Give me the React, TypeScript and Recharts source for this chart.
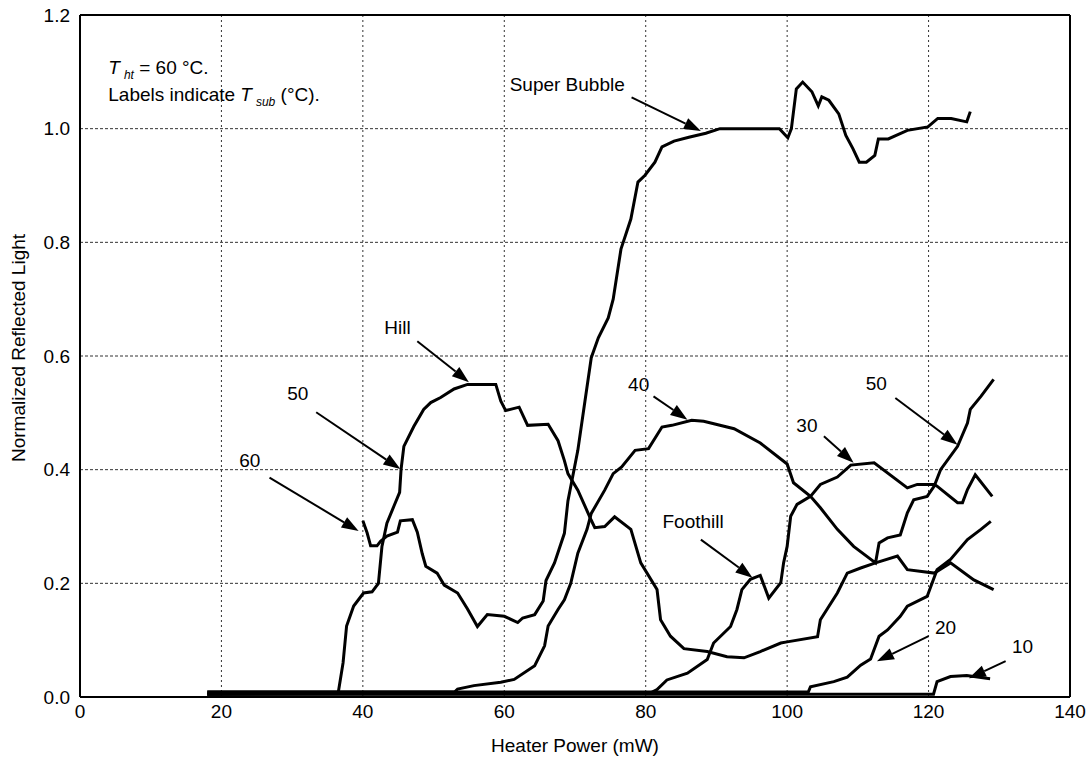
import React from "react";
import {
  LineChart,
  Line,
  XAxis,
  YAxis,
  CartesianGrid,
  ReferenceLine,
  ReferenceDot,
} from "recharts";

type Pt = [number, number];

const xTicks = [0, 20, 40, 60, 80, 100, 120, 140];
const yTicks = [0, 0.2, 0.4, 0.6, 0.8, 1.0, 1.2];

// Tsub = 60 °C, the one that ends in the super bubble
const curve60: Pt[] = [
  [40, 0.31], [40.6, 0.289], [41.1, 0.266], [42, 0.266], [42.5, 0.274],
  [43.4, 0.283], [44.9, 0.29], [45.3, 0.31], [47, 0.312], [47.7, 0.29],
  [48.4, 0.252], [48.9, 0.23], [50.5, 0.218], [51.5, 0.197], [53.4, 0.183],
  [54.8, 0.155], [56.2, 0.124], [57.6, 0.145], [60, 0.142], [61.9, 0.131],
  [62.6, 0.139], [64.3, 0.145], [65.5, 0.169], [65.9, 0.205], [67.1, 0.236],
  [68.5, 0.288], [69, 0.345], [70.4, 0.434], [71.4, 0.52], [72.3, 0.597],
  [73.3, 0.632], [74.7, 0.667], [75.4, 0.7], [76.5, 0.788], [77.9, 0.841],
  [78.9, 0.906], [79.9, 0.918], [81.3, 0.941], [82.3, 0.968], [84, 0.978],
  [86.1, 0.985], [88.5, 0.992], [90.5, 1.0], [98.9, 1.0], [100.1, 0.984],
  [100.6, 1.0], [101.3, 1.07], [102.2, 1.082], [103.5, 1.065], [104.4, 1.04],
  [104.9, 1.056], [105.9, 1.05], [107.3, 1.026], [108.3, 0.988], [109.3, 0.965],
  [110.2, 0.941], [111.2, 0.941], [112.4, 0.953], [112.9, 0.982], [114.3, 0.982],
  [117, 0.997], [119.9, 1.003], [121.3, 1.018], [123.2, 1.018], [125.4, 1.012],
  [125.9, 1.03],
];

// Tsub = 50 °C (left), goes over the hill
const curve50: Pt[] = [
  [18, 0.005], [36.5, 0.006], [37.2, 0.06], [37.7, 0.125], [38.7, 0.16],
  [40.1, 0.183], [41.3, 0.185], [42.2, 0.2], [42.7, 0.265], [43.4, 0.306],
  [44.4, 0.336], [45.2, 0.36], [45.4, 0.4], [45.8, 0.441], [47.2, 0.476],
  [48.6, 0.506], [49.6, 0.518], [51, 0.527], [52.9, 0.542], [54.8, 0.55],
  [58.8, 0.55], [59.5, 0.521], [60.2, 0.504], [62.1, 0.51], [63.3, 0.478],
  [66.2, 0.48], [67.6, 0.451], [68.5, 0.416], [69, 0.393], [70.4, 0.364],
  [72.3, 0.311], [72.8, 0.298], [74.2, 0.3], [75.6, 0.317], [77.9, 0.295],
  [79.3, 0.236], [81.6, 0.189], [82.1, 0.136], [83.5, 0.107], [85.4, 0.085],
  [88.7, 0.08], [91.5, 0.071], [93.9, 0.069], [96.2, 0.08], [99.1, 0.095],
  [100, 0.097], [104.3, 0.106], [104.7, 0.136], [107.1, 0.183], [108.5, 0.218],
  [110.4, 0.227], [112.5, 0.236], [115.6, 0.248], [117, 0.224], [120.8, 0.218],
  [123.1, 0.236], [126.4, 0.206], [129.2, 0.189],
];

const curve40: Pt[] = [
  [18, 0.009], [53, 0.009], [53.4, 0.014], [55.7, 0.02], [59.5, 0.026],
  [61.4, 0.031], [64.3, 0.055], [65.7, 0.09], [66.2, 0.125], [67.6, 0.154],
  [68.5, 0.171], [69.4, 0.2], [70.4, 0.253], [71.7, 0.295], [72.3, 0.323],
  [74.2, 0.364], [75.4, 0.393], [76.6, 0.405], [78.5, 0.434], [80.4, 0.437],
  [82.3, 0.475], [83.7, 0.478], [86.5, 0.487], [88.2, 0.485], [92.5, 0.472],
  [96.2, 0.447], [100, 0.41], [100.9, 0.377], [103.3, 0.353], [104.7, 0.333],
  [107.1, 0.295], [109.4, 0.265], [112.5, 0.236], [113, 0.271], [114.2, 0.28],
  [116, 0.285], [117, 0.324], [117.9, 0.347], [119.8, 0.353], [120.8, 0.371],
  [121.7, 0.4], [124.1, 0.441], [125.5, 0.482], [125.9, 0.506], [127.4, 0.529],
  [129.2, 0.559],
];

// Tsub = 30 °C, with the foothill
const curve30: Pt[] = [
  [18, 0.005], [80.5, 0.006], [81.6, 0.013], [83, 0.03], [85.9, 0.042],
  [88.7, 0.066], [89.6, 0.095], [92, 0.124], [92.9, 0.154], [93.6, 0.189],
  [94.8, 0.207], [96.2, 0.214], [97.4, 0.174], [99.1, 0.201], [99.5, 0.236],
  [100, 0.265], [100.5, 0.318], [101.4, 0.339], [103.3, 0.353], [104.7, 0.374],
  [107.1, 0.387], [109, 0.408], [112.3, 0.412], [117, 0.368], [118.4, 0.374],
  [120.8, 0.374], [121.2, 0.371], [124.1, 0.342], [124.8, 0.342], [125.5, 0.365],
  [126.6, 0.391], [129, 0.353],
];

const curve20: Pt[] = [
  [18, 0.009], [103, 0.009], [103.3, 0.018], [106.6, 0.027], [108.5, 0.035],
  [110.4, 0.056], [111.8, 0.067], [113, 0.107], [114.2, 0.118], [116, 0.142],
  [117, 0.16], [119.8, 0.177], [121.2, 0.224], [123.1, 0.242], [125.5, 0.277],
  [127.4, 0.295], [128.8, 0.309],
];

const curve10: Pt[] = [
  [18, 0.005], [120.7, 0.005], [121.2, 0.027], [123.1, 0.036], [125.4, 0.038],
  [128.7, 0.032],
];

const curves = [curve60, curve50, curve40, curve30, curve20, curve10];

// annotation labels (centre x, baseline y) and their arrows (tail -> tip)
const labelText = ["60", "50", "Hill", "Super Bubble", "40", "Foothill", "30", "50", "20", "10"];
const labelPos: Pt[] = [
  [24.0, 0.404], [30.8, 0.522], [44.9, 0.638], [68.9, 1.066], [79.0, 0.538],
  [86.7, 0.297], [102.8, 0.467], [112.6, 0.541], [122.4, 0.11], [133.3, 0.077],
];
const arrowTail: Pt[] = [
  [26.8, 0.386], [33.4, 0.501], [47.7, 0.626], [78.0, 1.055], [81.1, 0.529],
  [87.8, 0.277], [105.2, 0.459], [115.3, 0.526], [120.0, 0.107], [130.9, 0.063],
];
const arrowTip: Pt[] = [
  [39.4, 0.292], [45.3, 0.401], [55.0, 0.554], [87.8, 0.996], [85.9, 0.488],
  [95.1, 0.21], [109.4, 0.412], [124.1, 0.444], [112.7, 0.063], [125.7, 0.033],
];

const FONT = "'Liberation Sans', Arial, Helvetica, sans-serif";

const toRows = (pts: Pt[]) => pts.map(([x, y]) => ({ x, y }));

const Arrow = (p: any) => {
  const { x1, y1, x2, y2 } = p;
  const a = Math.atan2(y2 - y1, x2 - x1);
  const len = 17;
  const half = 6;
  const bx = x2 - len * Math.cos(a);
  const by = y2 - len * Math.sin(a);
  const lx = bx + half * Math.sin(a);
  const ly = by - half * Math.cos(a);
  const rx = bx - half * Math.sin(a);
  const ry = by + half * Math.cos(a);
  return (
    <g>
      <line x1={x1} y1={y1} x2={bx} y2={by} stroke="#000" strokeWidth={2} />
      <polygon points={`${x2},${y2} ${lx},${ly} ${rx},${ry}`} fill="#000" />
    </g>
  );
};

const YTitle = (props: any) => {
  const vb = props.viewBox || { x: 8 };
  const cx = vb.x + 17;
  const cy = 348;
  return (
    <text
      x={cx}
      y={cy}
      transform={`rotate(-90 ${cx} ${cy})`}
      textAnchor="middle"
      fontSize={19}
      fontFamily={FONT}
      fill="#000"
    >
      Normalized Reflected Light
    </text>
  );
};

const App: React.FC = () => {
  return (
    <div style={{ width: 1089, height: 757 }}>
      <style>{`body { margin: 0; overflow: hidden; }`}</style>
      <LineChart
        width={1089}
        height={757}
        margin={{ top: 15, right: 19, left: 8, bottom: 0 }}
      >
        <CartesianGrid horizontal={false} strokeDasharray="2 3" stroke="#333" />
        <CartesianGrid vertical={false} strokeDasharray="3 2" stroke="#333" />
        <XAxis
          type="number"
          dataKey="x"
          domain={[0, 140]}
          ticks={xTicks}
          height={60}
          tickLine={false}
          axisLine={{ stroke: "#000", strokeWidth: 2 }}
          tick={{ fill: "#000", fontSize: 19, fontFamily: FONT }}
          label={{
            value: "Heater Power (mW)",
            position: "insideBottom",
            offset: 5,
            fill: "#000",
            fontSize: 19,
            fontFamily: FONT,
          }}
        />
        <YAxis
          type="number"
          domain={[0, 1.2]}
          ticks={yTicks}
          width={72}
          tickLine={false}
          tickMargin={4}
          axisLine={{ stroke: "#000", strokeWidth: 2 }}
          tick={{ fill: "#000", fontSize: 19, fontFamily: FONT }}
          tickFormatter={(v: number) => v.toFixed(1)}
          label={<YTitle />}
        />
        <ReferenceLine y={1.2} stroke="#000" strokeWidth={2} />
        <ReferenceLine x={140} stroke="#000" strokeWidth={2} />
        {curves.map((c, i) => (
          <Line
            key={i}
            data={toRows(c)}
            dataKey="y"
            type="linear"
            stroke="#000"
            strokeWidth={3}
            dot={false}
            activeDot={false}
            isAnimationActive={false}
          />
        ))}
        {arrowTail.map((t, i) => (
          <ReferenceLine
            key={"a" + i}
            segment={[
              { x: t[0], y: t[1] },
              { x: arrowTip[i][0], y: arrowTip[i][1] },
            ]}
            shape={Arrow}
          />
        ))}
        {labelText.map((t, i) => (
          <ReferenceDot
            key={"l" + i}
            x={labelPos[i][0]}
            y={labelPos[i][1]}
            r={0}
            ifOverflow="visible"
            shape={(p: any) => (
              <text
                x={p.cx}
                y={p.cy}
                textAnchor="middle"
                fontSize={19}
                fontFamily={FONT}
                fill="#000"
              >
                {t}
              </text>
            )}
          />
        ))}
        <ReferenceDot
          x={4.0}
          y={1.097}
          r={0}
          ifOverflow="visible"
          shape={(p: any) => (
            <text x={p.cx} y={p.cy} fontSize={19} fontFamily={FONT} fill="#000">
              <tspan fontStyle="italic">T</tspan>
              <tspan fontStyle="italic" fontSize={12} dx={4} dy={5}>
                ht
              </tspan>
              <tspan dy={-5}> = 60 °C.</tspan>
              <tspan x={p.cx} dy={27}>
                Labels indicate{" "}
              </tspan>
              <tspan fontStyle="italic">T</tspan>
              <tspan fontStyle="italic" fontSize={12} dx={4} dy={5}>
                sub
              </tspan>
              <tspan dy={-5}> (°C).</tspan>
            </text>
          )}
        />
      </LineChart>
    </div>
  );
};

export default App;
